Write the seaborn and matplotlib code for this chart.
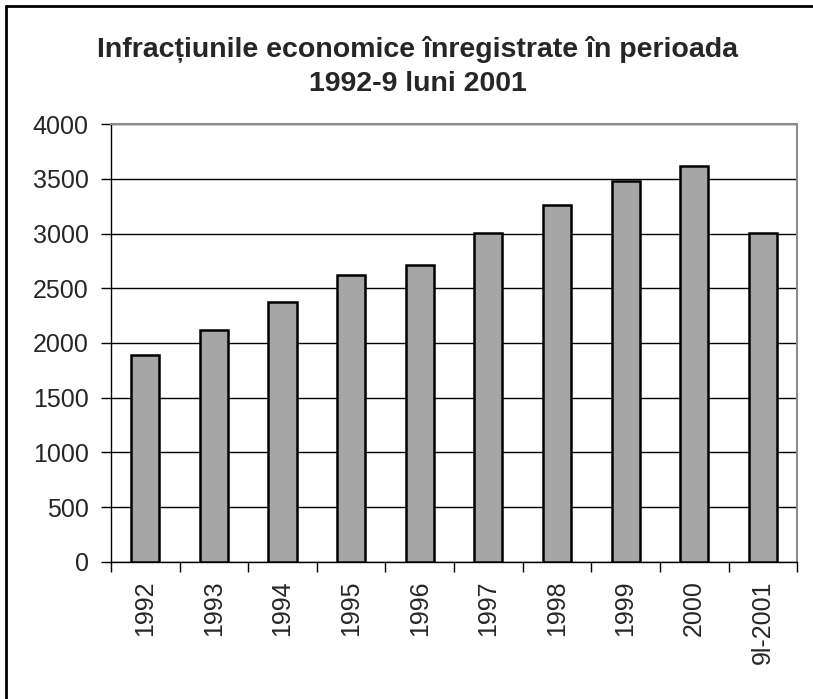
import matplotlib.pyplot as plt
import seaborn as sns
import pandas as pd
from matplotlib.lines import Line2D

# Values
years = ['1992', '1993', '1994', '1995', '1996', '1997', '1998', '1999', '2000', '9l-2001']
crimes = [1894, 2121, 2370, 2621, 2712, 3006, 3258, 3482, 3618, 3006]
yticks = list(range(0, 4001, 500))

df = pd.DataFrame({'An': years, 'Infractiuni': crimes})

sns.set_style("white")
plt.rcParams['font.family'] = ['Liberation Sans', 'DejaVu Sans']

fig = plt.figure(figsize=(8.13, 6.99), dpi=100)
ax = fig.add_axes([0.1365, 0.196, 0.844, 0.6266])

sns.barplot(data=df, x='An', y='Infractiuni', color='#a6a6a6', saturation=1,
            width=0.41, edgecolor='black', linewidth=1.8, ax=ax, zorder=3)

ax.set_ylim(0, 4000)
ax.set_xlim(-0.5, len(years) - 0.5)
ax.set_yticks(yticks)
ax.yaxis.grid(True, color='black', linewidth=1, zorder=0)
ax.set_axisbelow(True)

# labels at bar centres, tick marks at category boundaries
ax.set_xticks([i - 0.5 for i in range(len(years) + 1)])
ax.set_xticklabels([])
ax.set_xticks(range(len(years)), minor=True)
ax.set_xticklabels(years, minor=True, rotation=90, fontsize=18)
ax.tick_params(axis='x', which='major', direction='out', length=7, width=1, color='black', bottom=True)
ax.tick_params(axis='x', which='minor', length=0, pad=13)
ax.tick_params(axis='y', direction='out', length=7, width=1, color='black', labelsize=18, left=True, pad=9)

ax.set_xlabel('')
ax.set_ylabel('')

for side in ['left', 'bottom']:
    ax.spines[side].set_color('black')
    ax.spines[side].set_linewidth(1)
for side in ['top', 'right']:
    ax.spines[side].set_color('#8c8c8c')
    ax.spines[side].set_linewidth(1.5)

fig.text(0.514, 0.929, 'Infracțiunile economice înregistrate în perioada',
         ha='center', va='center', fontsize=20.5, fontweight='bold')
fig.text(0.514, 0.880, '1992-9 luni 2001',
         ha='center', va='center', fontsize=20.5, fontweight='bold')

# outer frame (only left and top edges are visible)
fig.add_artist(Line2D([0.0068, 0.0068], [0, 0.992], transform=fig.transFigure, color='black', linewidth=2))
fig.add_artist(Line2D([0.0068, 1], [0.992, 0.992], transform=fig.transFigure, color='black', linewidth=2))

plt.savefig('out.png', dpi=100)
